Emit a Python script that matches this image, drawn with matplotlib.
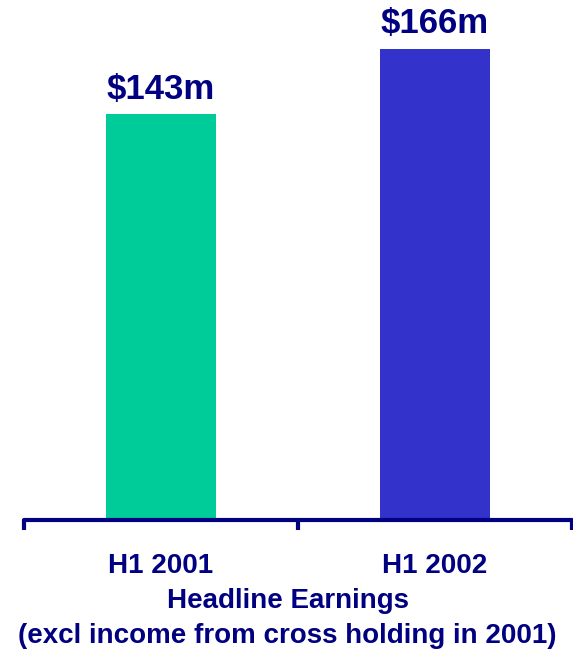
import matplotlib.pyplot as plt

periods = ["H1 2001", "H1 2002"]
earnings = [143, 166]
bar_colors = ["#00CC99", "#3333CC"]
title_lines = ["Headline Earnings", "(excl income from cross holding in 2001)"]

navy = "#000080"
plt.rcParams["font.family"] = ["Liberation Sans", "DejaVu Sans"]
plt.rcParams["font.weight"] = "bold"

fig = plt.figure(figsize=(5.73, 6.53), dpi=100)
ax = fig.add_axes([24 / 573, 133 / 653, 548 / 573, 520 / 653])

xpos = [i + 0.5 for i in range(len(periods))]
ax.bar(xpos, earnings, width=0.4, color=bar_colors)

for x, v in zip(xpos, earnings):
    ax.annotate(f"${v}m", xy=(x, v), xytext=(0, 25), textcoords="offset pixels",
                ha="center", va="center", fontsize=25, fontweight="bold", color=navy)

ax.set_xlim(0, len(periods))
ax.set_ylim(0, max(earnings) * 520 / 471)

# category separators drawn as downward ticks on the baseline
ax.set_xticks(range(len(periods) + 1))
ax.set_xticklabels([])
ax.tick_params(axis="x", direction="out", length=7, width=3, color=navy)
ax.set_yticks([])
for side in ["top", "right", "left"]:
    ax.spines[side].set_visible(False)
ax.spines["bottom"].set_color(navy)
ax.spines["bottom"].set_linewidth(3)
ax.spines["bottom"].set_capstyle("round")

for x, name in zip(xpos, periods):
    ax.annotate(name, xy=(x, 0), xycoords=("data", "axes fraction"), xytext=(0, -46),
                textcoords="offset pixels", ha="center", va="center",
                fontsize=20, fontweight="bold", color=navy, annotation_clip=False)

fig.text(0.503, 1 - 601 / 653, title_lines[0], ha="center", va="center",
         fontsize=20, fontweight="bold", color=navy)
fig.text(0.501, 1 - 636 / 653, title_lines[1], ha="center", va="center",
         fontsize=20, fontweight="bold", color=navy)

fig.savefig("out.png", dpi=100)
